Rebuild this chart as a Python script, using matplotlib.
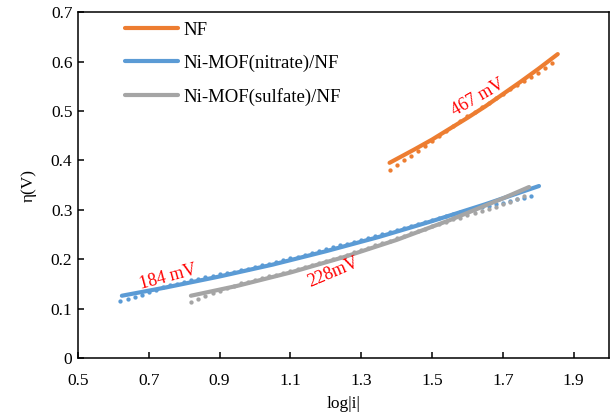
import matplotlib
matplotlib.use("Agg")
import matplotlib.pyplot as plt
from matplotlib.ticker import FixedLocator, FuncFormatter

plt.rcParams['font.family'] = ['Liberation Serif', 'DejaVu Serif']

# ---- data (dots) ----
nf_x = [1.38, 1.40, 1.42, 1.44, 1.46, 1.48, 1.50, 1.52, 1.54, 1.56, 1.58, 1.60,
        1.62, 1.64, 1.66, 1.68, 1.70, 1.72, 1.74, 1.76, 1.78, 1.80, 1.82, 1.84]
nf_y = [0.381, 0.391, 0.400, 0.409, 0.419, 0.429, 0.439, 0.450, 0.460, 0.470, 0.480, 0.489,
        0.498, 0.508, 0.517, 0.526, 0.535, 0.544, 0.552, 0.560, 0.568, 0.577, 0.586, 0.597]

nit_x = [0.62, 0.64, 0.66, 0.68, 0.70, 0.72, 0.74, 0.76, 0.78, 0.80, 0.82, 0.84,
         0.86, 0.88, 0.90, 0.92, 0.94, 0.96, 0.98, 1.00, 1.02, 1.04, 1.06, 1.08,
         1.10, 1.12, 1.14, 1.16, 1.18, 1.20, 1.22, 1.24, 1.26, 1.28, 1.30, 1.32,
         1.34, 1.36, 1.38, 1.40, 1.42, 1.44, 1.46, 1.48, 1.50, 1.52, 1.54, 1.56,
         1.58, 1.60, 1.62, 1.64, 1.66, 1.68, 1.70, 1.72, 1.74, 1.76, 1.78]
nit_y = [0.115, 0.119, 0.124, 0.128, 0.133, 0.138, 0.143, 0.147, 0.150, 0.153, 0.157, 0.160,
         0.163, 0.166, 0.169, 0.172, 0.175, 0.178, 0.181, 0.185, 0.188, 0.191, 0.195, 0.198,
         0.202, 0.205, 0.209, 0.213, 0.216, 0.220, 0.224, 0.228, 0.231, 0.235, 0.239, 0.243,
         0.247, 0.251, 0.255, 0.260, 0.264, 0.267, 0.271, 0.276, 0.279, 0.283, 0.287, 0.291,
         0.295, 0.298, 0.302, 0.306, 0.308, 0.311, 0.314, 0.318, 0.321, 0.324, 0.327]

sul_x = [0.82, 0.84, 0.86, 0.88, 0.90, 0.92, 0.94, 0.96, 0.98, 1.00, 1.02, 1.04,
         1.06, 1.08, 1.10, 1.12, 1.14, 1.16, 1.18, 1.20, 1.22, 1.24, 1.26, 1.28,
         1.30, 1.32, 1.34, 1.36, 1.38, 1.40, 1.42, 1.44, 1.46, 1.48, 1.50, 1.52,
         1.54, 1.56, 1.58, 1.60, 1.62, 1.64, 1.66, 1.68, 1.70, 1.72, 1.74, 1.76]
sul_y = [0.113, 0.119, 0.125, 0.131, 0.136, 0.141, 0.146, 0.151, 0.154, 0.158, 0.161, 0.165,
         0.168, 0.172, 0.176, 0.180, 0.184, 0.188, 0.192, 0.196, 0.200, 0.205, 0.209, 0.214,
         0.218, 0.223, 0.228, 0.232, 0.237, 0.242, 0.247, 0.252, 0.257, 0.262, 0.267, 0.272,
         0.276, 0.281, 0.284, 0.289, 0.293, 0.298, 0.302, 0.306, 0.311, 0.316, 0.321, 0.327]

# ---- Tafel fit lines ----
nf_fit_x = [1.38, 1.45, 1.50, 1.55, 1.60, 1.65, 1.70, 1.75, 1.80, 1.855]
nf_fit_y = [0.395, 0.422, 0.442, 0.464, 0.486, 0.509, 0.534, 0.559, 0.585, 0.615]
nit_fit_x = [0.624, 0.75, 0.90, 1.05, 1.20, 1.35, 1.50, 1.65, 1.802]
nit_fit_y = [0.126, 0.143, 0.165, 0.189, 0.216, 0.245, 0.277, 0.311, 0.348]
sul_fit_x = [0.819, 0.95, 1.10, 1.25, 1.40, 1.55, 1.70, 1.774]
sul_fit_y = [0.126, 0.146, 0.173, 0.204, 0.239, 0.279, 0.323, 0.346]

labels = ["NF", "Ni-MOF(nitrate)/NF", "Ni-MOF(sulfate)/NF"]
colors = ["#ED7D31", "#5B9BD5", "#A5A5A5"]
slopes = ["467 mV", "184 mV", "228mV"]
x_ticks = [0.5, 0.7, 0.9, 1.1, 1.3, 1.5, 1.7, 1.9]
y_ticks = [0, 0.1, 0.2, 0.3, 0.4, 0.5, 0.6, 0.7]

fig = plt.figure(figsize=(6.14, 4.17), dpi=100)
ax = fig.add_axes([0.127, 0.1415, 0.865, 0.8295])

series = [(nf_x, nf_y, nf_fit_x, nf_fit_y),
          (nit_x, nit_y, nit_fit_x, nit_fit_y),
          (sul_x, sul_y, sul_fit_x, sul_fit_y)]
for (dx, dy, fx, fy), lab, c in zip(series, labels, colors):
    ax.plot(dx, dy, linestyle='none', marker='o', markersize=3.1,
            markeredgewidth=0, color=c, zorder=2)
    ax.plot(fx, fy, color=c, linewidth=3.0, solid_capstyle='round',
            label=lab, zorder=3)

ax.set_xlim(0.5, 2.0)
ax.set_ylim(0, 0.7)
ax.xaxis.set_major_locator(FixedLocator(x_ticks))
ax.yaxis.set_major_locator(FixedLocator(y_ticks))
ax.xaxis.set_major_formatter(FuncFormatter(lambda v, p: f"{v:.1f}"))
ax.yaxis.set_major_formatter(FuncFormatter(lambda v, p: "0" if v == 0 else f"{v:.1f}"))
ax.tick_params(direction='in', length=4, width=1.1, labelsize=12.5, colors='black')
ax.tick_params(axis='x', pad=11)
ax.tick_params(axis='y', pad=4)
for s in ax.spines.values():
    s.set_linewidth(1.1)
    s.set_color('black')

ax.set_xlabel("log|i|", fontsize=12.5, labelpad=5)
ax.set_ylabel("η(V)", fontsize=12.5, labelpad=10)

ax.text(1.63, 0.527, slopes[0], color='red', fontsize=13, rotation=30,
        ha='center', va='center', rotation_mode='anchor')
ax.text(0.755, 0.163, slopes[1], color='red', fontsize=13, rotation=15,
        ha='center', va='center', rotation_mode='anchor')
ax.text(1.22, 0.174, slopes[2], color='red', fontsize=13, rotation=23,
        ha='center', va='center', rotation_mode='anchor')

leg = ax.legend(loc='upper left', bbox_to_anchor=(0.0885, 0.972), frameon=False,
                fontsize=13.5, handlelength=2.85, labelspacing=0.84,
                handletextpad=0.25, borderpad=0, borderaxespad=0)

fig.savefig("out.png", dpi=100)
